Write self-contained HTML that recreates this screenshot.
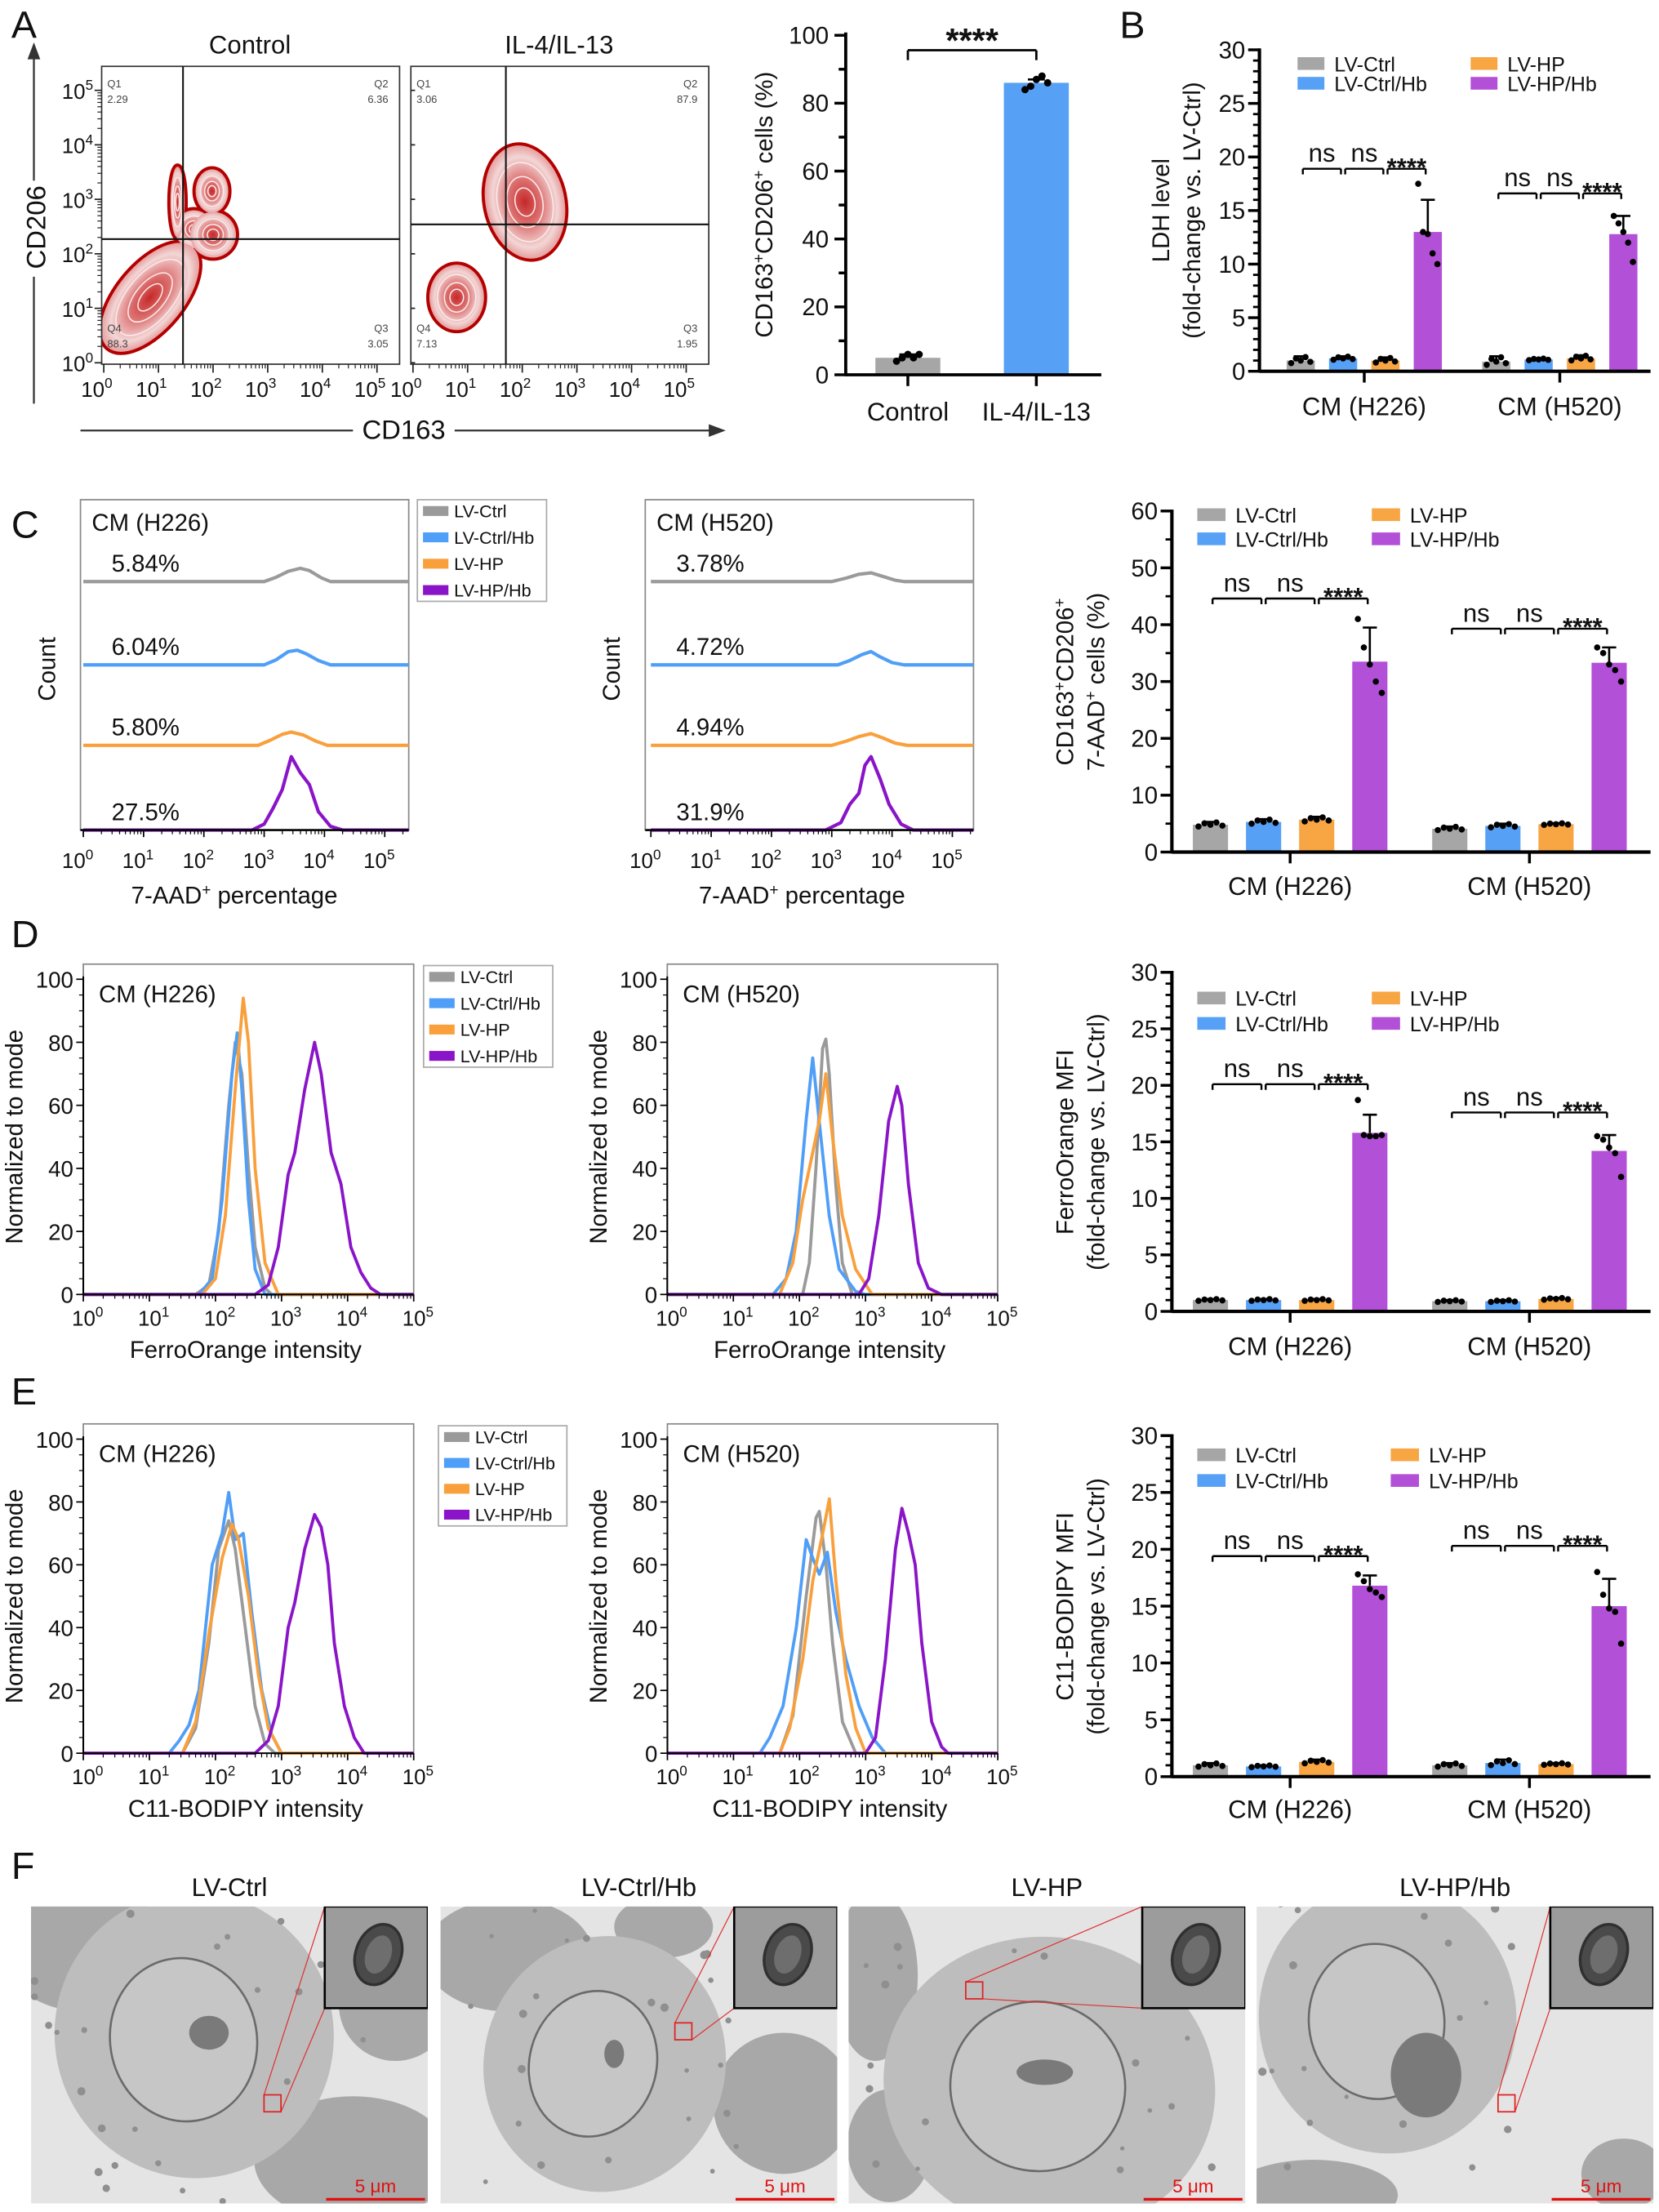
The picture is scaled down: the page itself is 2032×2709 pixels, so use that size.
<!DOCTYPE html>
<html><head><meta charset="utf-8">
<style>
html,body{margin:0;padding:0;background:#fff;}
svg{display:block;font-family:"Liberation Sans",sans-serif;}
</style></head>
<body>
<svg id="fig" xmlns="http://www.w3.org/2000/svg" width="2032" height="2709" viewBox="0 0 1175 1567" preserveAspectRatio="none">
<defs>
<radialGradient id="blobGrad" cx="50%" cy="50%" r="50%">
<stop offset="0" stop-color="#c62828"/><stop offset="0.4" stop-color="#dc7070"/><stop offset="0.8" stop-color="#f3d6d6"/><stop offset="1" stop-color="#e6a0a0"/>
</radialGradient>
</defs>
</svg>
<script>
// ---------------- DATA ----------------
// Panel A flow populations (log10 units): cx, cy, rx, ry, rotation
const flowCtrlPops=[[1.65,2.45,0.35,0.35,0],[0.85,1.2,1.2,0.6,-50],[1.35,2.95,0.13,0.65,0],[2.0,2.35,0.42,0.42,0],[1.98,3.15,0.3,0.4,0]];
const flowIL4Pops=[[2.05,2.95,0.72,1.05,-12],[0.8,1.2,0.5,0.6,0]];
const flowCtrlGate=[1.45,2.27];
const flowIL4Gate=[1.7,2.54];
const flowCtrlQuad=['2.29','6.36','3.05','88.3'];
const flowIL4Quad=['3.06','87.9','1.95','7.13'];
// Panel A bar chart
const aCategories=['Control','IL-4/IL-13'];
const aMeans=[5,86];
const aErr=[1,1];
const aPoints=[[4,5,6,5,6],[84,85,87,88,86]];
// Bar charts B-E
const groupCategories=['CM (H226)','CM (H520)'];
const seriesNames=['LV-Ctrl','LV-Ctrl/Hb','LV-HP','LV-HP/Hb'];
const bMeans=[[1.0,1.2,1.0,13.0],[0.9,1.1,1.2,12.8]];
const bErr=[[0.4,0.2,0.3,3.0],[0.5,0.1,0.3,1.7]];
const bPurplePts=[[17.5,13.0,12.8,11.0,10.0],[14.5,13.8,13.0,12.0,10.2]];
const bSig=[18.9,16.6];
const cMeans=[[4.8,5.3,5.7,33.5],[4.1,4.6,4.9,33.3]];
const cErr=[[0.5,0.5,0.5,6.0],[0.4,0.4,0.2,2.7]];
const cPurplePts=[[41,36,33,30,28],[36,35,33,32,30]];
const cSig=[44.6,39.3];
const dMeans=[[1.0,1.0,1.0,15.8],[0.9,0.9,1.1,14.2]];
const dErr=[[0.1,0.1,0.1,1.6],[0.1,0.1,0.1,1.4]];
const dPurplePts=[[18.7,15.6,15.5,15.5,15.6],[15.5,15.2,14.5,14.0,11.9]];
const dSig=[20.1,17.6];
const eMeans=[[1.0,0.9,1.3,16.8],[1.0,1.2,1.1,15.0]];
const eErr=[[0.2,0.1,0.2,0.9],[0.2,0.3,0.1,2.4]];
const ePurplePts=[[17.8,17.2,16.5,16.2,15.8],[18.0,16.0,14.8,14.5,11.7]];
const eSig=[19.4,20.3];
// C histograms (log10 intensity, count)
const cH226Gray=[[0,0],[3.0,0],[3.2,6],[3.4,14],[3.6,18],[3.75,15],[3.95,5],[4.1,0],[5.4,0]];
const cH226Blue=[[0,0],[3.0,0],[3.2,7],[3.4,18],[3.55,20],[3.7,15],[3.9,6],[4.1,0],[5.4,0]];
const cH226Orange=[[0,0],[2.9,0],[3.1,7],[3.3,15],[3.45,18],[3.65,14],[3.85,6],[4.05,0],[5.4,0]];
const cH226Purple=[[0,0],[2.8,0],[3.0,8],[3.15,30],[3.3,55],[3.45,100],[3.6,78],[3.75,62],[3.9,25],[4.1,5],[4.3,0],[5.4,0]];
const cH520Gray=[[0,0],[3.0,0],[3.25,5],[3.45,10],[3.65,12],[3.85,7],[4.05,2],[4.2,0],[5.4,0]];
const cH520Blue=[[0,0],[3.1,0],[3.3,6],[3.5,14],[3.65,18],[3.8,11],[4.0,3],[4.2,0],[5.4,0]];
const cH520Orange=[[0,0],[3.0,0],[3.25,6],[3.45,12],[3.65,16],[3.85,10],[4.05,3],[4.25,0],[5.4,0]];
const cH520Purple=[[0,0],[2.9,0],[3.15,10],[3.3,35],[3.45,50],[3.55,88],[3.65,100],[3.8,70],[3.95,35],[4.15,8],[4.35,0],[5.4,0]];
const cH226Pct=['5.84%','6.04%','5.80%','27.5%'];
const cH520Pct=['3.78%','4.72%','4.94%','31.9%'];
// D histograms
const dH226Gray=[[0,0],[1.7,0],[1.9,3],[2.05,20],[2.2,60],[2.3,80],[2.4,70],[2.5,40],[2.6,15],[2.75,2],[2.85,0],[5,0]];
const dH226Blue=[[0,0],[1.75,0],[1.95,5],[2.1,30],[2.25,70],[2.33,83],[2.4,65],[2.5,30],[2.6,8],[2.75,0],[5,0]];
const dH226Orange=[[0,0],[1.8,0],[2.0,5],[2.15,25],[2.3,65],[2.42,94],[2.5,80],[2.6,40],[2.75,10],[2.95,0],[5,0]];
const dH226Purple=[[0,0],[2.6,0],[2.8,3],[2.95,15],[3.1,38],[3.2,45],[3.35,65],[3.5,80],[3.6,70],[3.75,45],[3.9,35],[4.05,15],[4.2,7],[4.35,2],[4.5,0],[5,0]];
const dH520Gray=[[0,0],[2.05,0],[2.15,10],[2.25,40],[2.35,78],[2.4,81],[2.45,70],[2.55,35],[2.65,10],[2.8,0],[5,0]];
const dH520Blue=[[0,0],[1.6,0],[1.8,5],[1.95,20],[2.1,55],[2.2,75],[2.3,55],[2.45,25],[2.6,8],[2.85,1],[3.0,0],[5,0]];
const dH520Orange=[[0,0],[1.7,0],[1.9,10],[2.05,30],[2.2,45],[2.3,55],[2.4,70],[2.5,50],[2.65,25],[2.85,8],[3.1,0],[5,0]];
const dH520Purple=[[0,0],[2.9,0],[3.05,5],[3.2,25],[3.35,55],[3.48,66],[3.55,60],[3.65,35],[3.8,10],[3.95,2],[4.15,0],[5,0]];
// E histograms
const eH226Gray=[[0,0],[1.5,0],[1.7,8],[1.9,35],[2.05,65],[2.2,74],[2.3,65],[2.45,40],[2.6,15],[2.75,3],[2.9,0],[5,0]];
const eH226Blue=[[0,0],[1.3,0],[1.45,4],[1.6,9],[1.75,20],[1.95,60],[2.1,70],[2.2,83],[2.3,68],[2.42,70],[2.55,45],[2.7,20],[2.85,6],[3.0,0],[5,0]];
const eH226Orange=[[0,0],[1.5,0],[1.7,10],[1.9,38],[2.1,62],[2.25,73],[2.35,68],[2.5,50],[2.65,25],[2.8,8],[3.0,0],[5,0]];
const eH226Purple=[[0,0],[2.6,0],[2.8,4],[2.95,15],[3.1,40],[3.2,48],[3.35,65],[3.5,76],[3.6,72],[3.7,60],[3.8,35],[3.95,15],[4.1,5],[4.25,0],[5,0]];
const eH520Gray=[[0,0],[1.7,0],[1.9,12],[2.1,50],[2.25,75],[2.3,77],[2.4,60],[2.5,35],[2.65,10],[2.85,0],[5,0]];
const eH520Blue=[[0,0],[1.4,0],[1.55,5],[1.75,15],[1.95,40],[2.1,68],[2.2,62],[2.3,57],[2.42,64],[2.55,45],[2.7,30],[2.9,15],[3.1,5],[3.3,0],[5,0]];
const eH520Orange=[[0,0],[1.7,0],[1.85,8],[2.05,30],[2.2,55],[2.35,70],[2.45,81],[2.55,55],[2.7,25],[2.85,8],[3.0,0],[5,0]];
const eH520Purple=[[0,0],[3.0,0],[3.15,5],[3.3,30],[3.45,65],[3.55,78],[3.65,70],[3.75,60],[3.85,35],[4.0,10],[4.15,2],[4.25,0],[5,0]];
const emTitles=['LV-Ctrl','LV-Ctrl/Hb','LV-HP','LV-HP/Hb'];

// ---------------- HELPERS ----------------
const NS='http://www.w3.org/2000/svg';
const svg=document.getElementById('fig');
const BAR_COL=['#a6a6a6','#56a0f5','#f8a544','#b350d8'];
const HIST_COL=['#9a9a9a','#4f9ef8','#f9a03c','#8a14c8'];
function mk(tag,attrs,parent,name){
  const el=document.createElementNS(NS,tag);
  for(const k in attrs) el.setAttribute(k,attrs[k]);
  
  
  (parent||svg).appendChild(el);
  return el;
}
function txt(x,y,s,size,anchor,name,extra){
  const a={x:x,y:y,'font-size':size,'text-anchor':anchor||'start',fill:'#111'};
  if(extra) for(const k in extra) a[k]=extra[k];
  const t=mk('text',a,null,name);
  t.textContent=s;
  return t;
}
function supTxt(x,y,base,sup,size,anchor,name,tail,extra){
  const a={x:x,y:y,'font-size':size,'text-anchor':anchor||'start',fill:'#111'};
  if(extra) for(const k in extra) a[k]=extra[k];
  const t=mk('text',a,null,name);
  const s1=document.createElementNS(NS,'tspan'); s1.textContent=base; t.appendChild(s1);
  const s2=document.createElementNS(NS,'tspan'); s2.textContent=sup; s2.setAttribute('dy',-size*0.42); s2.setAttribute('font-size',size*0.66); t.appendChild(s2);
  if(tail){const s3=document.createElementNS(NS,'tspan'); s3.textContent=tail; s3.setAttribute('dy',size*0.42); t.appendChild(s3);}
  return t;
}
function line(x1,y1,x2,y2,stroke,w,name){
  return mk('line',{x1:x1,y1:y1,x2:x2,y2:y2,stroke:stroke,'stroke-width':w},null,name);
}

// ---------------- PANEL LETTERS ----------------
[['A',8,27],['B',793,27],['C',8,381],['D',8,671],['E',8,995],['F',8,1331]].forEach(p=>{
  const t=txt(p[1],p[2],p[0],27,'start','panel-label');
  
});

// ---------------- PANEL A FLOW ----------------
function flowPlot(px0,title,pops,gate,quad,showY,key){
  const X=l=>px0+1.5+38.7*l, Y=l=>257-38.6*l;
  const right=px0+211;
  txt(px0+105,38,title,18,'middle','flow-title-'+key);
  const clip=mk('clipPath',{id:'clip'+key},null,'flow-clip-'+key);
  mk('rect',{x:px0,y:47,width:211,height:211},clip,'flow-clip-rect');
  const g=mk('g',{'clip-path':'url(#clip'+key+')'},null,'flow-populations-'+key);
  // outer contours first, then fills (to merge shapes)
  pops.forEach(p=>{
    const cx=X(p[0]),cy=Y(p[1]),rx=p[2]*38.7,ry=p[3]*38.6;
    mk('ellipse',{cx:cx,cy:cy,rx:rx,ry:ry,fill:'#b30000',stroke:'#b30000','stroke-width':4.5,transform:'rotate('+p[4]+' '+cx+' '+cy+')'},g,'flow-population-outline');
  });
  pops.forEach(p=>{
    const cx=X(p[0]),cy=Y(p[1]),rx=p[2]*38.7,ry=p[3]*38.6;
    const tr='rotate('+p[4]+' '+cx+' '+cy+')';
    mk('ellipse',{cx:cx,cy:cy,rx:rx,ry:ry,fill:'url(#blobGrad)',transform:tr},g,'flow-population-contour');
    [0.7,0.45,0.25].forEach(f=>{
      mk('ellipse',{cx:cx,cy:cy,rx:rx*f,ry:ry*f,fill:'none',stroke:'#fbeaea','stroke-width':0.9,transform:tr},g,'flow-inner-contour');
    });
  });
  mk('rect',{x:px0,y:47,width:211,height:211,fill:'none',stroke:'#333','stroke-width':1},null,'flow-frame-'+key);
  line(X(gate[0]),47,X(gate[0]),258,'#111',1.2,'gate-vertical-'+key);
  line(px0,Y(gate[1]),right,Y(gate[1]),'#111',1.2,'gate-horizontal-'+key);
  for(let d=0;d<=5;d++){
    line(X(d),258,X(d),264,'#222',1,'x-major-tick');
    if(showY){line(px0-5,Y(d),px0,Y(d),'#222',1,'y-major-tick');}
    else line(px0,Y(d),px0+3,Y(d),'#222',1,'y-major-tick');
    for(let m=2;m<10&&d<5;m++){
      const lm=d+Math.log10(m);
      line(X(lm),258,X(lm),261,'#222',0.7,'x-minor-tick');
      if(showY) line(px0-3,Y(lm),px0,Y(lm),'#222',0.7,'y-minor-tick');
    }
    supTxt(X(d)-5,281,'10',String(d),15,'middle','x-tick-label-'+key,null,{'font-stretch':'condensed'});
    if(showY) supTxt(px0-6,Y(d)+6,'10',String(d),15,'end','y-tick-label');
  }
  const qc='#444';
  txt(px0+4,62,'Q1',7.5,'start','quadrant-label',{fill:qc});
  txt(px0+4,73,quad[0],7.5,'start','quadrant-value',{fill:qc});
  txt(right-8,62,'Q2',7.5,'end','quadrant-label',{fill:qc});
  txt(right-8,73,quad[1],7.5,'end','quadrant-value',{fill:qc});
  txt(right-8,235,'Q3',7.5,'end','quadrant-label',{fill:qc});
  txt(right-8,246,quad[2],7.5,'end','quadrant-value',{fill:qc});
  txt(px0+4,235,'Q4',7.5,'start','quadrant-label',{fill:qc});
  txt(px0+4,246,quad[3],7.5,'start','quadrant-value',{fill:qc});
}
flowPlot(72,'Control',flowCtrlPops,flowCtrlGate,flowCtrlQuad,true,'control');
flowPlot(291,'IL-4/IL-13',flowIL4Pops,flowIL4Gate,flowIL4Quad,false,'il4');
line(24,286,24,196,'#333',1.3,'cd206-arrow-line-lower');
line(24,128,24,40,'#333',1.3,'cd206-arrow-line-upper');
mk('polygon',{points:'24,30 19.5,42 28.5,42',fill:'#333'},null,'cd206-arrowhead');
txt(32,161,'CD206',19,'middle','y-axis-title-cd206',{transform:'rotate(-90 32 161)'});
line(57,305,250,305,'#333',1.3,'cd163-arrow-line-left');
line(322,305,503,305,'#333',1.3,'cd163-arrow-line-right');
mk('polygon',{points:'514,305 502,300.5 502,309.5',fill:'#333'},null,'cd163-arrowhead');
txt(286,311,'CD163',19,'middle','x-axis-title-cd163');

// ---------------- PANEL A BAR ----------------
(function(){
  const ax=599, y0=265.5, yT=25, max=100;
  const Y=v=>y0-(y0-yT)*v/max;
  const centers=[643,734];
  for(let v=0;v<=100;v+=10){
    const major=v%20===0;
    line(ax-(major?8:5),Y(v),ax,Y(v),'#000',2,'y-tick');
    if(major) txt(ax-12,Y(v)+6,String(v),17,'end','y-tick-label');
  }
  aMeans.forEach((m,i)=>{
    const b=mk('rect',{x:centers[i]-23,y:Y(m),width:46,height:y0-Y(m),fill:i===0?BAR_COL[0]:BAR_COL[1]},null,'bar');
    
    line(centers[i],Y(m),centers[i],Y(m+aErr[i]),'#000',1.5,'error-bar');
    line(centers[i]-6,Y(m+aErr[i]),centers[i]+6,Y(m+aErr[i]),'#000',1.5,'error-cap');
    aPoints[i].forEach((p,j)=>mk('circle',{cx:centers[i]-8+j*4,cy:Y(p),r:2.6,fill:'#000'},null,'data-point'));
    line(centers[i],y0,centers[i],y0+8,'#000',2,'x-tick');
    txt(centers[i],298,aCategories[i],18,'middle','x-category-label');
  });
  line(ax,yT-2,ax,y0+1,'#000',2.2,'y-axis');
  line(ax,y0,780,y0,'#000',2.2,'x-axis');
  const sy=35.6;
  line(centers[0],sy,centers[1],sy,'#000',1.6,'significance-bracket');
  line(centers[0],sy,centers[0],sy+7,'#000',1.6,'significance-bracket-end');
  line(centers[1],sy,centers[1],sy+7,'#000',1.6,'significance-bracket-end');
  txt((centers[0]+centers[1])/2,37,'****',24,'middle','significance-stars',{'font-weight':'bold'});
  const yl=txt(547,145,'',17,'middle','y-axis-title',{transform:'rotate(-90 547 145)'});
  yl.innerHTML='CD163<tspan dy="-6" font-size="11">+</tspan><tspan dy="6">CD206</tspan><tspan dy="-6" font-size="11">+</tspan><tspan dy="6"> cells (%)</tspan>';
})();

// ---------------- GROUPED BAR CHARTS ----------------
function groupedBar(cfg,means,errs,purplePts,sig){
  const Y=v=>cfg.yBot-(cfg.yBot-cfg.yTop)*v/cfg.max;
  const band=(cfg.x1-cfg.x0)/2;
  const step=cfg.stepF*band, w=cfg.wF*band;
  for(let v=0;v<=cfg.max+1e-9;v+=cfg.minor){
    const major=Math.abs(v/cfg.major-Math.round(v/cfg.major))<1e-6;
    line(cfg.x0-(major?8:4.5),Y(v),cfg.x0,Y(v),'#000',major?2:1.6,'y-tick');
    if(major) txt(cfg.x0-10,Y(v)+6,String(Math.round(v)),17,'end','y-tick-label');
  }
  groupCategories.forEach((cat,g)=>{
    const gc=cfg.x0+(g+0.5)*band+cfg.off;
    const cxs=[0,1,2,3].map(k=>gc+(k-1.5)*step);
    means[g].forEach((m,k)=>{
      const b=mk('rect',{x:cxs[k]-w/2,y:Y(m),width:w,height:cfg.yBot-Y(m),fill:BAR_COL[k]},null,'bar');
      
      const e=m+errs[g][k];
      line(cxs[k],Y(m),cxs[k],Y(e),'#000',1.5,'error-bar');
      line(cxs[k]-5,Y(e),cxs[k]+5,Y(e),'#000',1.5,'error-cap');
      const pts=k===3?purplePts[g]:[m-errs[g][k]*0.6,m+errs[g][k]*0.5,m,m+errs[g][k]*0.8,m-errs[g][k]*0.3];
      pts.forEach((p,j)=>mk('circle',{cx:cxs[k]+(j-2)*w*0.17,cy:Y(p),r:2.2,fill:'#000'},null,'data-point'));
    });
    const sy=Y(sig[g]);
    ['ns','ns','****'].forEach((lab,i)=>{
      const a=cxs[i]+1.5, b=cxs[i+1]-1.5;
      line(a,sy,b,sy,'#000',1.4,'significance-bracket');
      line(a,sy,a,sy+4,'#000',1.4,'significance-bracket-end');
      line(b,sy,b,sy+4,'#000',1.4,'significance-bracket-end');
      if(lab==='ns') txt((a+b)/2,sy-5,'ns',18,'middle','significance-ns');
      else txt((a+b)/2,sy+5,'****',18,'middle','significance-stars',{'font-weight':'bold'});
    });
    line(gc,cfg.yBot,gc,cfg.yBot+8,'#000',2,'x-tick');
    txt(gc,cfg.catY,cat,18,'middle','x-category-label');
  });
  line(cfg.x0,cfg.yTop-1,cfg.x0,cfg.yBot+1,'#000',2.4,'y-axis');
  line(cfg.x0,cfg.yBot,cfg.x1,cfg.yBot,'#000',2.4,'x-axis');
  seriesNames.forEach((s,k)=>{
    const lx=k<2?cfg.lc1:cfg.lc2;
    const ly=cfg.rows[k%2];
    mk('rect',{x:lx,y:ly-4.5,width:cfg.sqW,height:9,fill:BAR_COL[k]},null,'legend-swatch');
    txt(lx+cfg.sqW+7,ly+5.5,s,14.5,'start','legend-entry');
  });
  const yl=mk('text',{x:cfg.ylx,y:cfg.yMid,'font-size':17,'text-anchor':'middle',fill:'#111',transform:'rotate(-90 '+cfg.ylx+' '+cfg.yMid+')'},null,'y-axis-title');
  yl.innerHTML=cfg.yl1;
  const yl2=mk('text',{x:cfg.ylx+22,y:cfg.yMid,'font-size':17,'text-anchor':'middle',fill:'#111',transform:'rotate(-90 '+(cfg.ylx+22)+' '+cfg.yMid+')'},null,'y-axis-title-line2');
  yl2.innerHTML=cfg.yl2;
}
const baseC={x0:830,x1:1169,stepF:0.222,wF:0.147,off:-1,minor:1,major:5,max:30,lc1:848,lc2:971.6,sqW:20,ylx:760};
groupedBar({x0:892,x1:1169,stepF:0.2166,wF:0.144,off:5,yTop:35.3,yBot:263,max:30,major:5,minor:1,catY:294,lc1:919,lc2:1041.6,sqW:19,rows:[45,59],ylx:828,yMid:149,
  yl1:'LDH level',yl2:'(fold-change vs. LV-Ctrl)'},bMeans,bErr,bPurplePts,bSig);
groupedBar(Object.assign({},baseC,{yTop:362,yBot:603.6,max:60,major:10,minor:5,catY:634,rows:[364.6,381.7],yMid:483,
  yl1:'CD163<tspan dy="-6" font-size="11">+</tspan><tspan dy="6">CD206</tspan><tspan dy="-6" font-size="11">+</tspan>',yl2:'7-AAD<tspan dy="-6" font-size="11">+</tspan><tspan dy="6"> cells (%)</tspan>'}),cMeans,cErr,cPurplePts,cSig);
groupedBar(Object.assign({},baseC,{yTop:688.8,yBot:929,catY:960,rows:[707,725],yMid:809,
  yl1:'FerroOrange MFI',yl2:'(fold-change vs. LV-Ctrl)'}),dMeans,dErr,dPurplePts,dSig);
groupedBar(Object.assign({},baseC,{lc2:985,yTop:1017,yBot:1258.6,catY:1288,rows:[1030.6,1048.8],yMid:1138,
  yl1:'C11-BODIPY MFI',yl2:'(fold-change vs. LV-Ctrl)'}),eMeans,eErr,ePurplePts,eSig);

// ---------------- HISTOGRAM LEGEND ----------------
function histLegend(x,y,w,h,key){
  mk('rect',{x:x,y:y,width:w,height:h,fill:'#fff',stroke:'#aaa','stroke-width':1},null,'histogram-legend-box-'+key);
  seriesNames.forEach((s,k)=>{
    const cy=y+8+k*(h-16)/3;
    mk('rect',{x:x+4,y:cy-3.5,width:18,height:7,fill:HIST_COL[k]},null,'legend-swatch');
    txt(x+26,cy+4.5,s,12.5,'start','legend-entry');
  });
}

// ---------------- PANEL C HISTOGRAMS ----------------
function stackedHist(bx,x0,series,pcts,title,key){
  const dec=42.7, bw=232.5, top=354, bot=588;
  const lanes=[412,471,528,588];
  const X=l=>x0+dec*l;
  mk('rect',{x:bx,y:top,width:bw,height:bot-top,fill:'none',stroke:'#888','stroke-width':1},null,'histogram-frame-'+key);
  series.forEach((pts,k)=>{
    const d=pts.map((p,i)=>(i?'L':'M')+Math.min(X(p[0]),bx+bw).toFixed(1)+','+(lanes[k]-0.52*p[1]).toFixed(1)).join(' ');
    const pth=mk('path',{d:d,fill:'none',stroke:HIST_COL[k],'stroke-width':2.4,'stroke-linejoin':'round'},null,'histogram-trace');
    
    txt(bx+22,lanes[k]-7,pcts[k],17,'start','percentage-label');
  });
  line(bx,bot,bx+bw,bot,'#000',1.5,'x-axis');
  for(let d=0;d<=5;d++){
    line(X(d),bot,X(d),bot+5,'#000',1,'x-major-tick');
    for(let m=2;m<10;m++){const lm=d+Math.log10(m); if(X(lm)<bx+bw) line(X(lm),bot,X(lm),bot+3,'#000',0.7,'x-minor-tick');}
    supTxt(X(d)-4,615,'10',String(d),15,'middle','x-tick-label');
  }
  txt(bx+8,376,title,17,'start','histogram-title');
  txt(bx-18,474,'Count',17,'middle','y-axis-title',{transform:'rotate(-90 '+(bx-18)+' 474)'});
  const xl=mk('text',{x:x0+107,y:640,'font-size':17,'text-anchor':'middle',fill:'#111'},null,'x-axis-title');
  xl.innerHTML='7-AAD<tspan dy="-6" font-size="11">+</tspan><tspan dy="6"> percentage</tspan>';
}
stackedHist(57,59,[cH226Gray,cH226Blue,cH226Orange,cH226Purple],cH226Pct,'CM (H226)','c-h226');
stackedHist(457,461,[cH520Gray,cH520Blue,cH520Orange,cH520Purple],cH520Pct,'CM (H520)','c-h520');
histLegend(295.6,354,91.5,72,'c');

// ---------------- PANEL D/E HISTOGRAMS ----------------
function modeHist(ax,top,y0,y100,series,title,xtitle,key){
  const dec=46.8, right=ax+234;
  const X=l=>ax+dec*l, Y=v=>y0-(y0-y100)*v/100;
  mk('rect',{x:ax,y:top,width:234,height:y0-top,fill:'none',stroke:'#888','stroke-width':1},null,'histogram-frame-'+key);
  series.forEach((pts,k)=>{
    const d=pts.map((p,i)=>(i?'L':'M')+X(p[0]).toFixed(1)+','+Y(p[1]).toFixed(1)).join(' ');
    const pth=mk('path',{d:d,fill:'none',stroke:HIST_COL[k],'stroke-width':2.2,'stroke-linejoin':'round'},null,'histogram-trace');
    
  });
  line(ax,y100-2,ax,y0,'#000',1.2,'y-axis');
  line(ax,y0,right,y0,'#000',1.2,'x-axis');
  for(let v=0;v<=100;v+=5){
    const major=v%20===0;
    line(ax-(major?5:3),Y(v),ax,Y(v),'#000',major?1:0.7,'y-tick');
    if(major) txt(ax-7,Y(v)+6,String(v),16,'end','y-tick-label');
  }
  for(let d=0;d<=5;d++){
    line(X(d),y0,X(d),y0+5,'#000',1,'x-major-tick');
    for(let m=2;m<10&&d<5;m++){const lm=d+Math.log10(m); line(X(lm),y0,X(lm),y0+3,'#000',0.7,'x-minor-tick');}
    supTxt(X(d)+3,y0+22,'10',String(d),15,'middle','x-tick-label');
  }
  txt(ax+11,top+27,title,17,'start','histogram-title');
  txt(ax+115,y0+45,xtitle,17,'middle','x-axis-title');
  const yx=ax-43, ym=(y0+y100)/2;
  txt(yx,ym,'Normalized to mode',17,'middle','y-axis-title',{transform:'rotate(-90 '+yx+' '+ym+')'});
}
modeHist(59,683,917,693.7,[dH226Gray,dH226Blue,dH226Orange,dH226Purple],'CM (H226)','FerroOrange intensity','d-h226');
modeHist(472.6,683,917,693.7,[dH520Gray,dH520Blue,dH520Orange,dH520Purple],'CM (H520)','FerroOrange intensity','d-h520');
histLegend(300,684,91.5,72,'d');
modeHist(59,1008.7,1242,1019.5,[eH226Gray,eH226Blue,eH226Orange,eH226Purple],'CM (H226)','C11-BODIPY intensity','e-h226');
modeHist(472.7,1008.7,1242,1019.5,[eH520Gray,eH520Blue,eH520Orange,eH520Purple],'CM (H520)','C11-BODIPY intensity','e-h520');
histLegend(310.5,1010,91,71,'e');

// ---------------- PANEL F EM IMAGES ----------------
const emLayout=[
  {x:22,nuc:[130,1445,52,58,-10],nl:[148,1440,14,12],sq:[187,1484],cells:[[60,1380,60,45],[250,1530,70,45],[280,1420,40,40]]},
  {x:312,nuc:[420,1462,45,52,15],nl:[435,1455,7,10],sq:[478,1433],cells:[[360,1385,60,40],[470,1365,35,22],[555,1490,50,50]]},
  {x:601,nuc:[735,1478,62,60,10],nl:[740,1468,20,9],sq:[684,1404],cells:[[620,1400,30,60],[630,1520,30,40]]},
  {x:890,nuc:[975,1432,48,55,-5],nl:[1010,1470,25,30],sq:[1061,1484],cells:[[930,1555,60,25],[1150,1540,30,25]]}
];
let seed=7; function rnd(){seed=(seed*16807)%2147483647; return seed/2147483647;}
emLayout.forEach((L,i)=>{
  const x=L.x, y=1350.6, w=281, h=210.4;
  txt(x+w/2,1343,emTitles[i],18,'middle','em-title');
  const clip=mk('clipPath',{id:'emclip'+i},null,'em-clip');
  mk('rect',{x:x,y:y,width:w,height:h},clip,'em-clip-rect');
  const g=mk('g',{'clip-path':'url(#emclip'+i+')'},null,'em-image-'+emTitles[i].toLowerCase().replace(/[^a-z0-9]+/g,'-'));
  mk('rect',{x:x,y:y,width:w,height:h,fill:'#e4e4e4'},g,'em-background');
  L.cells.forEach(c=>mk('ellipse',{cx:c[0],cy:c[1],rx:c[2],ry:c[3],fill:'#a8a8a8'},g,'em-neighbor-cell'));
  const n=L.nuc;
  mk('ellipse',{cx:n[0]+8,cy:n[1]-2,rx:n[2]*1.9,ry:n[3]*1.75,fill:'#bdbdbd',transform:'rotate('+n[4]+' '+n[0]+' '+n[1]+')'},g,'em-cell-body');
  for(let k=0;k<26;k++){
    const a=rnd()*Math.PI*2, r=0.7+rnd()*0.9;
    mk('circle',{cx:n[0]+Math.cos(a)*n[2]*1.6*r,cy:n[1]+Math.sin(a)*n[3]*1.5*r,r:1.5+rnd()*1.5,fill:'#8f8f8f'},g,'em-organelle');
  }
  mk('ellipse',{cx:n[0],cy:n[1],rx:n[2],ry:n[3],fill:'#c6c6c6',stroke:'#6a6a6a','stroke-width':1.5,transform:'rotate('+n[4]+' '+n[0]+' '+n[1]+')'},g,'em-nucleus');
  mk('ellipse',{cx:L.nl[0],cy:L.nl[1],rx:L.nl[2],ry:L.nl[3],fill:'#7a7a7a'},g,'em-nucleolus');
  const ix=x+w-73, iy=y;
  mk('line',{x1:L.sq[0],y1:L.sq[1],x2:ix,y2:iy,stroke:'#e03030','stroke-width':0.7},g,'em-zoom-line');
  mk('line',{x1:L.sq[0]+12,y1:L.sq[1]+12,x2:ix,y2:iy+72,stroke:'#e03030','stroke-width':0.7},g,'em-zoom-line');
  mk('rect',{x:L.sq[0],y:L.sq[1],width:12,height:12,fill:'none',stroke:'#e02020','stroke-width':1},g,'em-roi-box');
  mk('rect',{x:ix,y:iy,width:73,height:72,fill:'#9c9c9c',stroke:'#000','stroke-width':1.5},g,'em-inset');
  mk('ellipse',{cx:ix+38,cy:iy+34,rx:16,ry:22,fill:'#4a4a4a',stroke:'#303030','stroke-width':2,transform:'rotate(20 '+(ix+38)+' '+(iy+34)+')'},g,'em-inset-mitochondrion');
  mk('ellipse',{cx:ix+38,cy:iy+34,rx:9,ry:14,fill:'#6e6e6e',transform:'rotate(20 '+(ix+38)+' '+(iy+34)+')'},g,'em-inset-cristae');
  mk('line',{x1:x+w-72,y1:y+h-3,x2:x+w-2,y2:y+h-3,stroke:'#e01010','stroke-width':2},g,'em-scale-bar');
  const sb=txt(x+w-37,y+h-8,'5 μm',13,'middle','em-scale-label',{fill:'#e01010'});
  g.appendChild(sb);
});
</script>
</body></html>
